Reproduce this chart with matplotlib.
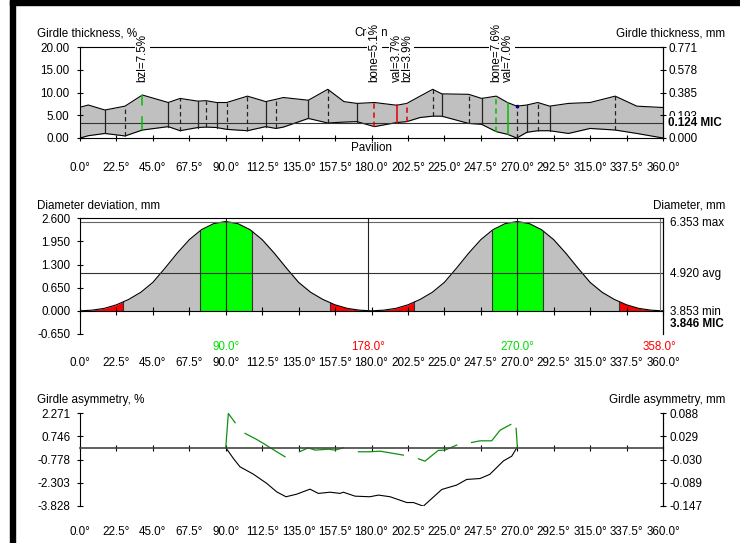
import numpy as np
import matplotlib.pyplot as plt
from matplotlib.patches import Rectangle

plt.rcParams['font.family'] = ['Liberation Sans', 'DejaVu Sans']
plt.rcParams['font.size'] = 8.4

W, H = 740, 543

deg_ticks = np.arange(0, 361, 22.5)
deg_labels = [f"{d:.1f}°" for d in deg_ticks]

# ---- girdle thickness, % ----
thick_deg = [0, 5.1, 15.4, 27.8, 38.5, 54.5, 61.8, 72.7, 77.8, 84.4, 90.6, 103.4,
             114.7, 121, 125.6, 141, 153, 163, 171, 181.8, 195.6, 201.8, 210,
             217.8, 223.4, 240, 248, 257, 264, 269.7, 275.9, 282.7, 290, 301.6,
             315, 330.5, 343.8, 360]
thick_up = [6.75, 7.25, 6.15, 7.0, 9.45, 7.8, 8.7, 8.1, 8.2, 7.8, 7.8, 9.2,
            8.0, 8.5, 8.9, 8.3, 10.7, 8.0, 7.6, 7.8, 7.2, 7.6, 9.2,
            10.7, 9.7, 9.6, 8.7, 9.2, 7.8, 7.0, 7.25, 7.8, 7.0, 7.6,
            7.8, 9.2, 7.0, 6.7]
thick_lo = [0.0, 0.5, 1.0, 0.45, 1.75, 2.5, 1.6, 2.3, 2.4, 2.3, 1.9, 1.6,
            2.5, 2.1, 2.4, 4.3, 3.3, 3.5, 3.6, 2.5, 3.4, 3.6, 4.5,
            4.8, 4.8, 3.2, 3.0, 1.4, 0.8, 0.0, 1.25, 1.6, 1.6, 1.0,
            2.1, 1.75, 1.0, 0.0]
thick_ticks = [0, 5, 10, 15, 20]
thick_mm = ['0.000', '0.193', '0.385', '0.578', '0.771']
mic_pct = 3.2
mic_mm = 0.124

mark_deg = [15.4, 27.8, 38.5, 54.5, 61.8, 72.7, 77.8, 84.4, 90.6, 103.4, 114.7,
            121, 141, 153, 171, 181.8, 195.6, 201.8, 217.8, 223.4, 240, 248,
            257, 264, 269.7, 275.9, 282.7, 290, 330.5]
mark_col = ['k', 'k', 'g', 'k', 'k', 'k', 'k', 'k', 'k', 'k', 'k',
            'k', 'k', 'k', 'k', 'r', 'r', 'r', 'k', 'k', 'k', 'k',
            'g', 'g', 'k', 'k', 'k', 'k', 'k']
mark_dash = [0, 1, 2, 0, 1, 0, 1, 0, 1, 1, 0,
             1, 0, 1, 0, 1, 0, 1, 1, 0, 1, 0,
             1, 0, 1, 0, 1, 0, 1]

lab_text = ['bzl=7.5%', 'bone=5.1%', 'val=3.7%', 'bzl=3.9%', 'bone=7.6%', 'val=7.0%']
lab_deg = [38.5, 181.8, 195.6, 201.8, 257, 264]

# ---- diameter deviation, mm ----
dia_deg = [0, 7.5, 15, 22.5, 30, 37.5, 45, 52.5, 60, 67.5, 75, 82.5, 90,
           97.5, 105, 112.5, 120, 127.5, 135, 142.5, 150, 157.5, 165, 172.5, 180,
           187.5, 195, 202.5, 210, 217.5, 225, 232.5, 240, 247.5, 255, 262.5, 270,
           277.5, 285, 292.5, 300, 307.5, 315, 322.5, 330, 337.5, 345, 352.5, 360]
dia_dev = [0, 0.02, 0.07, 0.17, 0.32, 0.52, 0.80, 1.20, 1.62, 2.00, 2.28, 2.45, 2.51,
           2.45, 2.28, 2.00, 1.62, 1.20, 0.80, 0.52, 0.32, 0.17, 0.07, 0.02, 0,
           0.02, 0.07, 0.17, 0.32, 0.52, 0.80, 1.20, 1.62, 2.00, 2.28, 2.45, 2.51,
           2.45, 2.28, 2.00, 1.62, 1.20, 0.80, 0.52, 0.32, 0.17, 0.07, 0.02, 0]
dev_ticks = [-0.65, 0, 0.65, 1.3, 1.95, 2.6]
green_spans = [(74.1, 106.0), (254.3, 286.2)]
red_spans = [(0, 26.8), (154.4, 206.5), (333.0, 360)]
max_deg = [90.0, 270.0]
min_deg = [178.0, 358.0]
dia_max, dia_avg, dia_min, dia_mic = 6.353, 4.920, 3.853, 3.846

# ---- girdle asymmetry, % ----
asym_deg = [90.1, 94.7, 98.8, 107, 115.3, 121.5, 127.2, 133.8, 142, 147.2, 154.4,
            160.6, 162.6, 169.8, 179, 184.3, 191.5, 201.8, 205.9, 212, 223.4,
            232.6, 238.8, 247, 253, 261.5, 266.6, 269.7]
asym_val = [0, -0.70, -1.25, -1.73, -2.34, -2.9, -3.22, -3.05, -2.72, -3.0, -2.92,
            -3.0, -2.92, -3.18, -3.22, -3.11, -3.22, -3.6, -3.6, -3.84, -2.74,
            -2.45, -2.08, -2.02, -1.75, -0.86, -0.55, 0]
asym2_deg = [90.0, 91.6, 95.8, np.nan,
             101.9, 109.1, 113.2, 121.5, 126.6, np.nan,
             135.5, 141, 145.2, 153.4, 157.5, 162.6, np.nan,
             171.9, 179, 185.3, 199.7, np.nan,
             209, 213, 221.2, 225.4, 232.6, np.nan,
             241.8, 247, 254.2, 259.4, 266, np.nan,
             269.3, 270.1]
asym2_val = [0, 2.26, 1.65, np.nan,
             0.95, 0.55, 0.29, -0.26, -0.59, np.nan,
             -0.26, 0, -0.15, -0.09, -0.15, 0, np.nan,
             -0.26, -0.26, -0.22, -0.48, np.nan,
             -0.72, -0.88, -0.17, -0.15, 0.18, np.nan,
             0.35, 0.46, 0.46, 1.16, 1.54, np.nan,
             1.28, 0]
asym_ticks = [-3.828, -2.303, -0.778, 0.746, 2.271]
asym_mm = ['-0.147', '-0.089', '-0.030', '0.029', '0.088']

GRAY = '#c0c0c0'
LGREEN = '#00ff00'
DGREEN = '#00c000'
RED = '#ff0000'
colmap = {'k': '#222222', 'g': DGREEN, 'r': '#e00000'}


def px(v):
    return v * 72 / 100.0


def base_axes(rect, xpad, xlen):
    ax = fig.add_axes(rect)
    ax.set_xlim(0, 360)
    ax.set_xticks(deg_ticks)
    ax.set_xticklabels(deg_labels)
    ax.tick_params(axis='x', direction='inout', length=xlen, width=0.8, pad=xpad)
    ax.tick_params(axis='y', direction='inout', length=4.5, width=0.8, pad=5.5)
    for s in ax.spines.values():
        s.set_linewidth(0.8)
    return ax


def right_axis(ax, ticks, labels, length, pad):
    r = ax.twinx()
    r.set_ylim(ax.get_ylim())
    r.set_yticks(ticks)
    r.set_yticklabels(labels)
    r.tick_params(axis='y', direction='inout', length=length, width=0.8, pad=pad)
    for k in ['top', 'bottom', 'left']:
        r.spines[k].set_visible(False)
    r.spines['right'].set_linewidth(0.8)
    return r


def span(a0, a1):
    xs = [a0] + [d for d in dia_deg if a0 < d < a1] + [a1]
    return np.array(xs), np.interp(xs, dia_deg, dia_dev)


fig = plt.figure(figsize=(W / 100, H / 100), dpi=100)

# ================= top panel =================
ax1 = base_axes([80 / W, 1 - 138 / H, 583 / W, 91 / H], 14.8, 5)
ax1.set_ylim(0, 20)
ax1.set_yticks(thick_ticks)
ax1.set_yticklabels([f"{t:.2f}" for t in thick_ticks])
ax1.fill_between(thick_deg, thick_lo, thick_up, color=GRAY, lw=0)
ax1.plot(thick_deg, thick_up, color='black', lw=0.8)
ax1.plot(thick_deg, thick_lo, color='black', lw=0.8)
ax1.axhline(mic_pct, color='#333333', lw=0.8)
for d, c, ds in zip(mark_deg, mark_col, mark_dash):
    y0 = np.interp(d, thick_deg, thick_lo)
    y1 = np.interp(d, thick_deg, thick_up)
    ln, = ax1.plot([d, d], [y0, y1], color=colmap[c], lw=1.1 if c != 'k' else 0.9)
    if ds == 1:
        ln.set_dashes([3.5, 2.5])
    elif ds == 2:
        ln.set_dashes([9, 7])
ax1.plot([269.7], [np.interp(269.7, thick_deg, thick_up)], 's', color='#000080', ms=1.5)
ax1.text(180, 23.1, 'Crown', ha='center', va='center', clip_on=False)
ax1.text(180, -2.2, 'Pavilion', ha='center', va='center', clip_on=False)
for t, d in zip(lab_text, lab_deg):
    ax1.text(d, 12.3, t, rotation=90, ha='center', va='bottom', zorder=6,
             clip_on=False, bbox=dict(fc='white', ec='none', pad=1.2))
ax1r = right_axis(ax1, thick_ticks, thick_mm, 4.5, 1.4)
ax1r.annotate(f"{mic_mm:.3f} MIC", xy=(1, mic_pct), xycoords=('axes fraction', 'data'),
              xytext=(px(5), 0), textcoords='offset points', ha='left', va='center',
              fontweight='bold', bbox=dict(fc='white', ec='none', pad=0.8), zorder=6)

# ================= middle panel =================
ax2 = base_axes([80 / W, 1 - 334 / H, 583 / W, (334 - 218.3) / H], 30.8, 5.5)
ax2.set_ylim(-0.65, 2.6)
ax2.set_yticks(dev_ticks)
ax2.set_yticklabels([f"{t:.3f}" for t in dev_ticks])
ax2.tick_params(axis='y', pad=4.5)
ax2.spines['bottom'].set_position(('data', 0))
ax2.fill_between(dia_deg, 0, dia_dev, color=GRAY, lw=0)
for a0, a1 in green_spans:
    xs, ys = span(a0, a1)
    ax2.fill_between(xs, 0, ys, color=LGREEN, lw=0)
for a0, a1 in red_spans:
    xs, ys = span(a0, a1)
    ax2.fill_between(xs, 0, ys, color=RED, lw=0)
edges = sorted(set([e for s in green_spans + red_spans for e in s if 0 < e < 360]))
for e in edges:
    ax2.plot([e, e], [0, np.interp(e, dia_deg, dia_dev)], color='#333333', lw=0.8)
ax2.plot(dia_deg, dia_dev, color='black', lw=0.8)
ax2.axhline(dia_max - dia_min, color='#666666', lw=0.8)
ax2.axhline(dia_avg - dia_min, color='#333333', lw=0.8)
for d in max_deg:
    ax2.plot([d, d], [0, 2.6], color='#222222', lw=0.8)
ax2.plot([min_deg[0]] * 2, [0, 2.6], color='#222222', lw=0.8)
ax2.plot([min_deg[1]] * 2, [0, 2.6], color='#777777', lw=0.8)
for d in max_deg:
    ax2.annotate(f"{d:.1f}°", xy=(d, 0), xycoords=('data', 'axes fraction'),
                 xytext=(0, -px(13)), textcoords='offset points', ha='center',
                 va='center', color='#00e000')
for d in min_deg:
    ax2.annotate(f"{d:.1f}°", xy=(d, 0), xycoords=('data', 'axes fraction'),
                 xytext=(0, -px(13)), textcoords='offset points', ha='center',
                 va='center', color=RED)
ax2r = right_axis(ax2, [0, dia_avg - dia_min, dia_max - dia_min],
                  [f"{dia_min:.3f} min", f"{dia_avg:.3f} avg", f"{dia_max:.3f} max"], 0, 5)
ax2r.annotate(f"{dia_mic:.3f} MIC", xy=(1, 0), xycoords=('axes fraction', 'data'),
              xytext=(px(7), -px(13)), textcoords='offset points', ha='left',
              va='center', fontweight='bold')

# ================= bottom panel =================
ax3 = base_axes([80 / W, 1 - 506 / H, 583 / W, (506 - 413.3) / H], 53.8, 5)
ax3.set_ylim(asym_ticks[0], asym_ticks[-1])
ax3.set_yticks(asym_ticks)
ax3.set_yticklabels([f"{t:.3f}" for t in asym_ticks])
ax3.tick_params(axis='y', pad=4.5)
ax3.spines['top'].set_visible(False)
ax3.spines['bottom'].set_position(('data', 0))
ax3.spines['bottom'].set_color('#444444')
ax3.spines['bottom'].set_linewidth(1.2)
ax3.plot(asym_deg, asym_val, color='black', lw=0.8)
ax3.plot(asym2_deg, asym2_val, color='#109010', lw=0.9)
ax3r = right_axis(ax3, asym_ticks, asym_mm, 4.5, 2.2)

# ================= titles =================
fig.text(37 / W, 1 - 33 / H, 'Girdle thickness, %', ha='left', va='center')
fig.text(725 / W, 1 - 33 / H, 'Girdle thickness, mm', ha='right', va='center')
fig.text(37 / W, 1 - 205 / H, 'Diameter deviation, mm', ha='left', va='center')
fig.text(725 / W, 1 - 205 / H, 'Diameter, mm', ha='right', va='center')
fig.text(37 / W, 1 - 400 / H, 'Girdle asymmetry, %', ha='left', va='center')
fig.text(725 / W, 1 - 400 / H, 'Girdle asymmetry, mm', ha='right', va='center')

# window frame
fig.patches.append(Rectangle((10 / W, 0), 5 / W, 1, transform=fig.transFigure,
                             color='black', zorder=10))
fig.patches.append(Rectangle((10 / W, 1 - 5 / H), 1, 5 / H, transform=fig.transFigure,
                             color='black', zorder=10))

fig.savefig('out.png', dpi=100)
